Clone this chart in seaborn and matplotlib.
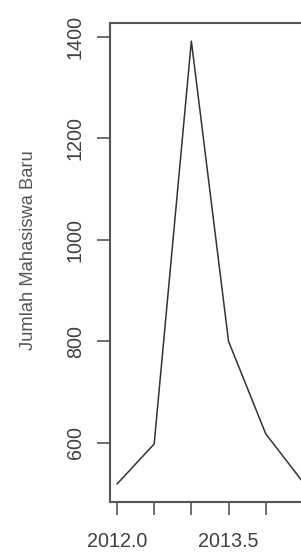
import matplotlib
matplotlib.use("Agg")
import matplotlib.pyplot as plt
import seaborn as sns
import pandas as pd

# Data (half-year steps)
periode = [2012.0, 2012.5, 2013.0, 2013.5, 2014.0, 2014.5]
mahasiswa_baru = [519, 598, 1391, 800, 618, 523]

x_ticks = [2012.0, 2012.5, 2013.0, 2013.5, 2014.0, 2014.5]
x_labels = ["2012.0", "", "", "2013.5", "", ""]
y_ticks = [600, 800, 1000, 1200, 1400]

df = pd.DataFrame({"periode": periode, "mahasiswa_baru": mahasiswa_baru})

sns.set_style("white")
plt.rcParams["font.family"] = ["Liberation Sans", "DejaVu Sans"]

fig = plt.figure(figsize=(3.01, 5.55), dpi=100)
# R-like plot region; right edge of the box runs past the cropped image
ax = fig.add_axes([0.364, 0.0959, 0.667, 0.862])

sns.lineplot(data=df, x="periode", y="mahasiswa_baru", ax=ax,
             color="#333333", linewidth=1.1)

# R default 4% padding
xr = max(periode) - min(periode)
yr = max(mahasiswa_baru) - min(mahasiswa_baru)
ax.set_xlim(min(periode) - 0.04 * xr, max(periode) + 0.04 * xr)
ax.set_ylim(min(mahasiswa_baru) - 0.04 * yr, max(mahasiswa_baru) + 0.04 * yr)

ax.set_xticks(x_ticks)
ax.set_xticklabels(x_labels, fontsize=14.2, color="#404040")
ax.set_yticks(y_ticks)
ax.set_yticklabels([str(v) for v in y_ticks], fontsize=14.2, color="#404040",
                   rotation=90, va="center")

ax.tick_params(axis="x", direction="out", length=9.2, width=1.2,
               color="#555555", pad=12.5, bottom=True)
ax.tick_params(axis="y", direction="out", length=9.4, width=1.2,
               color="#555555", pad=8.5, left=True)

for side in ["left", "right", "top", "bottom"]:
    ax.spines[side].set_visible(True)
    ax.spines[side].set_color("#555555")
    ax.spines[side].set_linewidth(1.5)

ax.set_xlabel("")
ax.set_ylabel("Jumlah Mahasiswa Baru", fontsize=13.2, color="#555555")
ax.yaxis.set_label_coords(-0.362, 0.526)

fig.savefig("out.png", dpi=100, facecolor="white")
